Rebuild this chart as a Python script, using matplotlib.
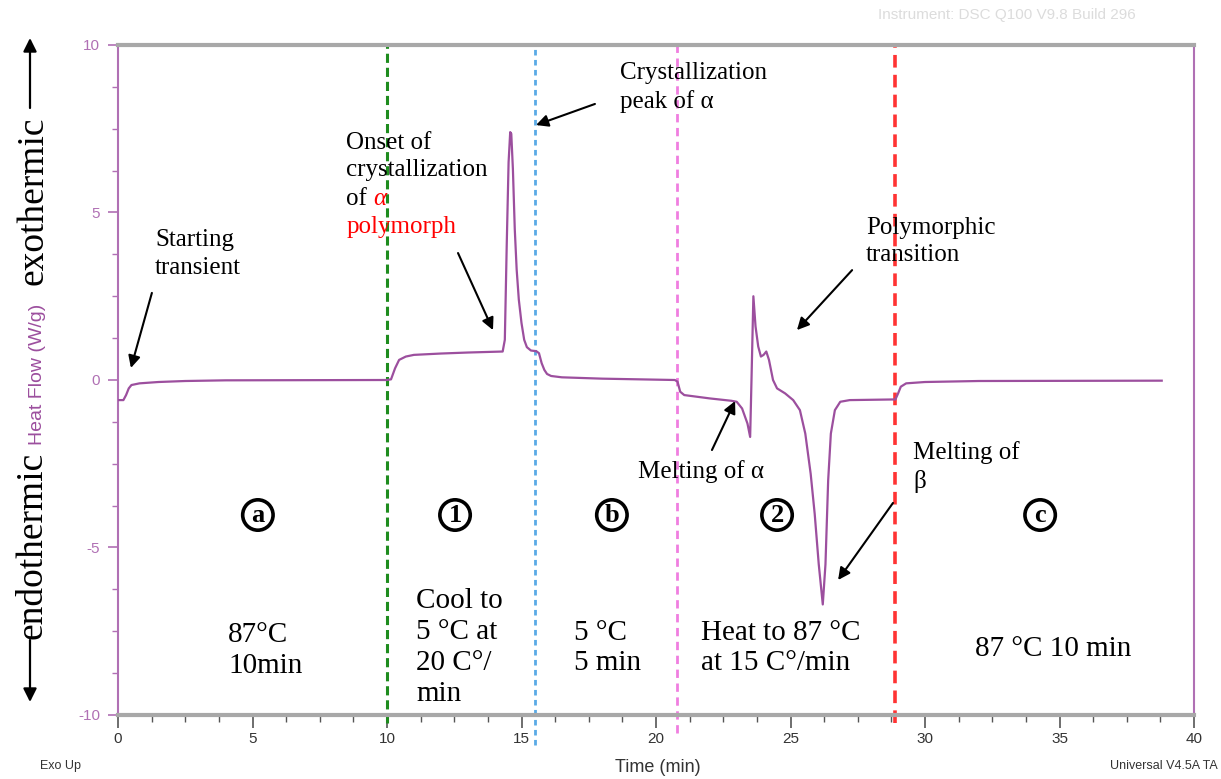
import matplotlib
matplotlib.use('Agg')
import matplotlib.pyplot as plt
from matplotlib.ticker import MultipleLocator

plt.rcParams['font.family'] = ['Liberation Sans', 'DejaVu Sans']
plt.rcParams['axes.unicode_minus'] = False

# DSC trace: time (min) vs heat flow (W/g), exo up
time_min = [0.0, 0.2, 0.3, 0.4, 0.5, 0.8, 1.5, 2.5, 4.0, 10.0,
            10.15, 10.3, 10.45, 10.7, 11.0, 12.0, 13.0, 14.3, 14.38, 14.45,
            14.52, 14.58, 14.62, 14.68, 14.75, 14.82, 14.9, 15.0, 15.1, 15.2,
            15.35, 15.55, 15.65, 15.75, 15.85, 15.95, 16.1, 16.5, 18.0, 20.7,
            20.8, 20.9, 21.05, 22.0, 22.8, 23.0, 23.2, 23.4, 23.5, 23.55,
            23.62, 23.7, 23.8, 23.9, 24.0, 24.1, 24.2, 24.35, 24.5, 24.8,
            25.1, 25.35, 25.55, 25.75, 25.9, 26.05, 26.2, 26.3, 26.4, 26.5,
            26.65, 26.85, 27.2, 28.9, 29.0, 29.1, 29.3, 30.0, 32.0, 38.8]
heat_flow = [-0.6, -0.6, -0.45, -0.25, -0.15, -0.1, -0.06, -0.03, -0.01, 0.0,
             0.02, 0.35, 0.6, 0.7, 0.75, 0.79, 0.82, 0.85, 1.2, 4.0,
             6.5, 7.4, 7.35, 6.3, 4.5, 3.3, 2.4, 1.7, 1.2, 0.98,
             0.88, 0.86, 0.8, 0.5, 0.3, 0.18, 0.12, 0.08, 0.04, 0.0,
             -0.05, -0.35, -0.45, -0.55, -0.62, -0.65, -0.85, -1.3, -1.7, 0.0,
             2.5, 1.6, 1.0, 0.7, 0.75, 0.85, 0.6, 0.0, -0.25, -0.4,
             -0.6, -0.9, -1.6, -2.8, -4.0, -5.5, -6.7, -5.5, -3.0, -1.6,
             -0.9, -0.65, -0.6, -0.58, -0.4, -0.2, -0.1, -0.06, -0.03, -0.02]

# step boundaries of the temperature program
boundary_times = [10.0, 15.5, 20.78, 28.9]
boundary_colors = ['#1e8c1e', '#5aaae6', '#f07ee0', '#ff3333']

region_labels = ['a', '1', 'b', '2', 'c']
region_centers = [5.2, 12.53, 18.36, 24.5, 34.28]

PURPLE = '#9c4f9e'
AXIS_PURPLE = '#b070b4'
SERIF = 'Liberation Serif'

fig = plt.figure(figsize=(12.21, 7.79), dpi=100)
ax = fig.add_axes([118 / 1221, 1 - 715 / 779, (1194 - 118) / 1221, (715 - 45) / 779])

ax.plot(time_min, heat_flow, color=PURPLE, lw=1.6, zorder=3)

ax.set_xlim(0, 40)
ax.set_ylim(-10, 10)
ax.xaxis.set_major_locator(MultipleLocator(5))
ax.xaxis.set_minor_locator(MultipleLocator(1.25))
ax.yaxis.set_major_locator(MultipleLocator(5))
ax.yaxis.set_minor_locator(MultipleLocator(1.25))

for side in ['top', 'bottom']:
    ax.spines[side].set_color('#a8a8a8')
    ax.spines[side].set_linewidth(3)
for side in ['left', 'right']:
    ax.spines[side].set_color(AXIS_PURPLE)
    ax.spines[side].set_linewidth(1.5)

ax.tick_params(axis='y', which='major', length=7, width=1.2, color=AXIS_PURPLE,
               labelcolor=AXIS_PURPLE, labelsize=11, pad=6)
ax.tick_params(axis='y', which='minor', length=4, width=1.0, color=AXIS_PURPLE)
ax.tick_params(axis='x', which='major', length=9, width=1.2, color='#555555',
               labelcolor='#333333', labelsize=11, pad=3)
ax.tick_params(axis='x', which='minor', length=5, width=1.0, color='#555555')

# dashed step boundaries, some running below the axis
bottoms = [-10.24, -10.9, -10.55, -10.24]
widths = [2.2, 2.0, 2.0, 2.6]
dashes = [(3, 1.6), (2, 1.6), (3, 2), (3.5, 2)]
for t, c, b, w, d in zip(boundary_times, boundary_colors, bottoms, widths, dashes):
    ln, = ax.plot([t, t], [b, 10], color=c, lw=w, clip_on=False, zorder=2)
    ln.set_dashes(d)

# circled step markers
for lab, x in zip(region_labels, region_centers):
    ax.text(x, -4.03, lab, family=SERIF, fontsize=19, fontweight='bold',
            ha='center', va='center',
            bbox=dict(boxstyle='circle,pad=0.14', fc='white', ec='black', lw=2.6))

arrow = dict(arrowstyle='-|>', color='black', lw=1.5, mutation_scale=18,
             shrinkA=0, shrinkB=0)
note = dict(family=SERIF, fontsize=18, linespacing=1.3, ha='left', va='center')

ax.text(1.375, 3.76, 'Starting\ntransient', **note)
ax.annotate('', xy=(0.48, 0.36), xytext=(1.26, 2.60), arrowprops=arrow)

ax.text(8.48, 6.66, 'Onset of\ncrystallization', **note)
ax.text(8.48, 5.40, 'of ', **note)
ax.text(9.5, 5.40, 'α', color='red', family=SERIF, style='italic', fontsize=18,
        ha='left', va='center')
ax.text(8.48, 4.57, 'polymorph', color='red', family=SERIF, fontsize=18,
        ha='left', va='center')
ax.annotate('', xy=(13.94, 1.49), xytext=(12.64, 3.79), arrowprops=arrow)

ax.text(18.66, 8.73, 'Crystallization\npeak of α', **note)
ax.annotate('', xy=(15.54, 7.61), xytext=(17.73, 8.24), arrowprops=arrow)

ax.text(27.81, 4.13, 'Polymorphic\ntransition', **note)
ax.annotate('', xy=(25.24, 1.49), xytext=(27.29, 3.28), arrowprops=arrow)

ax.text(19.33, -2.72, 'Melting of α', **note)
ax.annotate('', xy=(22.94, -0.63), xytext=(22.08, -2.09), arrowprops=arrow)

ax.text(29.55, -2.6, 'Melting of\nβ', **note)
ax.annotate('', xy=(26.77, -5.97), xytext=(28.81, -3.67), arrowprops=arrow)

# temperature program of each step
step = dict(family=SERIF, fontsize=21, linespacing=1.25, ha='left', va='center')
ax.text(4.09, -8.06, '87°C\n10min', **step)
ax.text(11.08, -7.98, 'Cool to\n5 °C at\n20 C°/\nmin', **step)
ax.text(16.95, -8.0, '5 °C\n5 min', **step)
ax.text(21.67, -8.0, 'Heat to 87 °C\nat 15 C°/min', **step)
ax.text(31.86, -8.03, '87 °C 10 min', **step)

# side captions
fig.text(658 / 1221, 1 - 768 / 779, 'Time (min)', ha='center', va='center',
         fontsize=13, color='#333333')
fig.text(40 / 1221, 1 - 766 / 779, 'Exo Up', ha='left', va='center',
         fontsize=9, color='#333333')
fig.text(1218 / 1221, 1 - 766 / 779, 'Universal V4.5A TA', ha='right', va='center',
         fontsize=9, color='#333333')
fig.text(1007 / 1221, 1 - 15 / 779, 'Instrument: DSC Q100 V9.8 Build 296',
         ha='center', va='center', fontsize=11, color='#dcdcdc')

fig.text(42 / 1221, 1 - 545 / 779, 'endothermic', rotation=90, rotation_mode='anchor',
         ha='center', va='baseline', family=SERIF, fontsize=27)
fig.text(42 / 1221, 1 - 374 / 779, 'Heat Flow (W/g)', rotation=90, rotation_mode='anchor',
         ha='center', va='baseline', fontsize=14, color=PURPLE)
fig.text(42 / 1221, 1 - 201 / 779, 'exothermic', rotation=90, rotation_mode='anchor',
         ha='center', va='baseline', family=SERIF, fontsize=27)

side_arrow = dict(arrowstyle='-|>', color='black', lw=1.6, mutation_scale=20,
                  shrinkA=0, shrinkB=0)
ax.annotate('', xy=(30, 779 - 38), xytext=(30, 779 - 108),
            xycoords='figure pixels', textcoords='figure pixels', arrowprops=side_arrow)
ax.annotate('', xy=(30, 779 - 702), xytext=(30, 779 - 640),
            xycoords='figure pixels', textcoords='figure pixels', arrowprops=side_arrow)

fig.savefig('out.png', dpi=100)
